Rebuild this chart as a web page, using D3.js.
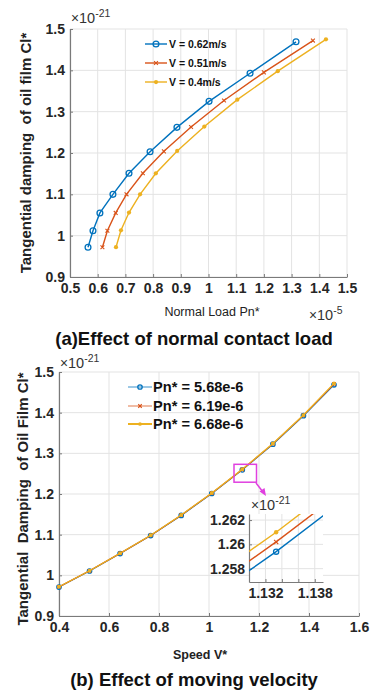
<!DOCTYPE html>
<html><head><meta charset="utf-8">
<script src="https://cdn.jsdelivr.net/npm/d3@7"></script>
<style>
html,body{margin:0;padding:0;background:#fff;}
svg text{font-family:Arial,"Liberation Sans",sans-serif;}
</style></head>
<body>
<script>
// ---------- DATA ----------
// Panel (a): tangential damping vs normal load, three speeds
const seriesA = ["V = 0.62m/s", "V = 0.51m/s", "V = 0.4m/s"];
const pnA_062 = [0.565, 0.583, 0.608, 0.655, 0.713, 0.789, 0.886, 1.002, 1.150, 1.316];
const clA_062 = [0.972, 1.012, 1.055, 1.100, 1.151, 1.203, 1.262, 1.325, 1.393, 1.469];
const pnA_051 = [0.617, 0.635, 0.665, 0.704, 0.763, 0.839, 0.937, 1.056, 1.200, 1.377];
const clA_051 = [0.972, 1.012, 1.055, 1.100, 1.151, 1.204, 1.263, 1.327, 1.395, 1.472];
const pnA_040 = [0.666, 0.684, 0.713, 0.753, 0.810, 0.887, 0.985, 1.104, 1.250, 1.424];
const clA_040 = [0.972, 1.013, 1.056, 1.100, 1.151, 1.205, 1.264, 1.329, 1.398, 1.475];
const xTicksA = [0.5, 0.6, 0.7, 0.8, 0.9, 1, 1.1, 1.2, 1.3, 1.4, 1.5];
const yTicks = [0.9, 1, 1.1, 1.2, 1.3, 1.4, 1.5];

// Panel (b): tangential damping vs speed, three normal loads
const seriesB = ["Pn* = 5.68e-6", "Pn* = 6.19e-6", "Pn* = 6.68e-6"];
const speedB = [0.4, 0.5222, 0.6444, 0.7667, 0.8889, 1.0111, 1.1333, 1.2556, 1.3778, 1.5];
const clB_568 = [0.9712, 1.0107, 1.0535, 1.0977, 1.1474, 1.2012, 1.2594, 1.3225, 1.3925, 1.4685];
const clB_619 = [0.9716, 1.0111, 1.0540, 1.0982, 1.1480, 1.2019, 1.2602, 1.3233, 1.3933, 1.4700];
const clB_668 = [0.9720, 1.0115, 1.0545, 1.0988, 1.1486, 1.2026, 1.2610, 1.3242, 1.3942, 1.4720];
const xTicksB = [0.4, 0.6, 0.8, 1, 1.2, 1.4, 1.6];
// Inset (zoom)
const insetXTicks = [1.132, 1.134, 1.136, 1.138];
const insetXLabels = ["1.132", "", "", "1.138"];
const insetYTicks = [1.258, 1.26, 1.262];
const insetYLabels = ["1.258", "1.26", "1.262"];
const zoomBox = {x0: 1.10, x1: 1.19, y0: 1.229, y1: 1.273};

// ---------- STYLE ----------
const colors = ["#0072BD", "#D95319", "#EDB120"];
const markers = ["circle", "x", "dot"];
const gridColor = "#e3e3e3", axisColor = "#7a7a7a", tickText = "#262626";

const svg = d3.select("body").append("svg").attr("width", 371).attr("height", 692);

function fmt(d){ return (Math.abs(d-1)<1e-9) ? "1" : d3.format(".1f")(d); }

function drawMarker(g, type, cx, cy, color, r){
  if(type==="circle"){
    g.append("circle").attr("cx",cx).attr("cy",cy).attr("r",r).attr("fill","none").attr("stroke",color).attr("stroke-width",1.3);
  } else if(type==="x"){
    const s=r*0.8;
    g.append("path").attr("d",`M${cx-s},${cy-s}L${cx+s},${cy+s}M${cx-s},${cy+s}L${cx+s},${cy-s}`).attr("stroke",color).attr("stroke-width",1.1);
  } else {
    g.append("circle").attr("cx",cx).attr("cy",cy).attr("r",r*0.85).attr("fill",color);
  }
}

function exponent(g, x, y, base, sup, size){
  const t = g.append("text").attr("x",x).attr("y",y).attr("font-size",size).attr("fill","#333");
  t.append("tspan").text("\u00d7").attr("font-size",size*0.95);
  t.append("tspan").text(base);
  t.append("tspan").text(sup).attr("dy",-size*0.42).attr("font-size",size*0.72);
}

function axesFrame(g, x, y, xTicks, yTicks, xFmt, yFmt, opt){
  const [x0,x1]=x.range(), [y0,y1]=y.range();
  g.append("g").selectAll("line").data(xTicks).join("line")
    .attr("x1",d=>x(d)).attr("x2",d=>x(d)).attr("y1",y0).attr("y2",y1)
    .attr("stroke",gridColor).attr("stroke-width",1);
  g.append("g").selectAll("line").data(yTicks).join("line")
    .attr("y1",d=>y(d)).attr("y2",d=>y(d)).attr("x1",x0).attr("x2",x1)
    .attr("stroke",gridColor).attr("stroke-width",1);
  const xa = d3.axisBottom(x).tickValues(xTicks).tickFormat(xFmt).tickSizeInner(-opt.tick).tickSizeOuter(0).tickPadding(opt.xpad);
  const ya = d3.axisLeft(y).tickValues(yTicks).tickFormat(yFmt).tickSizeInner(-opt.tick).tickSizeOuter(0).tickPadding(opt.ypad);
  const gx = g.append("g").attr("transform",`translate(0,${y0})`).call(xa);
  const gy = g.append("g").attr("transform",`translate(${x0},0)`).call(ya);
  [gx,gy].forEach(a=>{
    a.select(".domain").attr("stroke",axisColor).attr("stroke-width",1.2);
    a.selectAll(".tick line").attr("stroke",axisColor);
    a.selectAll(".tick text").attr("font-size",opt.fs).attr("font-weight","bold").attr("fill",tickText)
      .attr("font-family","Arial, 'Liberation Sans', sans-serif");
  });
  return {gx,gy};
}

// ================= PANEL A =================
{
  const g = svg.append("g");
  const x = d3.scaleLinear().domain([0.5,1.5]).range([70,347]);
  const y = d3.scaleLinear().domain([0.9,1.5]).range([277,29]);
  axesFrame(g,x,y,xTicksA,yTicks,fmt,fmt,{tick:3,xpad:6,ypad:5,fs:14});
  const data = [[pnA_062,clA_062],[pnA_051,clA_051],[pnA_040,clA_040]];
  const radii = [2.9, 2.4, 2.5];
  const line = d3.line().x(d=>x(d[0])).y(d=>y(d[1]));
  data.forEach((s,i)=>{
    const pts = s[0].map((v,k)=>[v,s[1][k]]);
    g.append("path").datum(pts).attr("d",line).attr("fill","none").attr("stroke",colors[i]).attr("stroke-width",1.4);
    pts.forEach(p=>drawMarker(g,markers[i],x(p[0]),y(p[1]),colors[i],radii[i]));
  });
  const ly = [44,63,82];
  seriesA.forEach((t,i)=>{
    g.append("line").attr("x1",145).attr("x2",167).attr("y1",ly[i]).attr("y2",ly[i]).attr("stroke",colors[i]).attr("stroke-width",1.4);
    drawMarker(g,markers[i],156,ly[i],colors[i],radii[i]);
    g.append("text").attr("x",169).attr("y",ly[i]+3.8).attr("font-size",10.5).attr("font-weight","bold").attr("fill","#111").text(t);
  });
  exponent(g,71,23,"10","-21",14.5);
  exponent(g,309,320,"10","-5",14.5);
  g.append("text").attr("x",212).attr("y",316).attr("text-anchor","middle").attr("font-size",12.5).attr("fill","#222").text("Normal Load Pn*");
  g.append("text").attr("transform","translate(31,153) rotate(-90)").attr("text-anchor","middle")
    .attr("font-size",15).attr("font-weight","bold").attr("fill","#222").attr("xml:space","preserve")
    .text("Tangential damping  of oil film Cl*");
  g.append("text").attr("x",194).attr("y",345).attr("text-anchor","middle").attr("font-size",18.5).attr("font-weight","bold").attr("fill","#111")
    .text("(a)Effect of normal contact load");
}

// ================= PANEL B =================
{
  const g = svg.append("g");
  const x = d3.scaleLinear().domain([0.4,1.6]).range([59,359]);
  const y = d3.scaleLinear().domain([0.9,1.5]).range([616,372]);
  axesFrame(g,x,y,xTicksB,yTicks,fmt,fmt,{tick:3,xpad:6,ypad:5,fs:14});
  const data = [clB_568, clB_619, clB_668];
  const line = d3.line().x(d=>x(d[0])).y(d=>y(d[1]));
  data.forEach((s,i)=>{
    const pts = speedB.map((v,k)=>[v,s[k]]);
    g.append("path").datum(pts).attr("d",line).attr("fill","none").attr("stroke",colors[i]).attr("stroke-width",1.2);
    pts.forEach(p=>drawMarker(g,markers[i],x(p[0]),y(p[1]),colors[i],2.2));
  });
  const ly = [387,406,424];
  seriesB.forEach((t,i)=>{
    g.append("line").attr("x1",128).attr("x2",152).attr("y1",ly[i]).attr("y2",ly[i]).attr("stroke",colors[i]).attr("stroke-width",i===2?2:1.1).attr("opacity",i===2?1:0.7);
    drawMarker(g,markers[i],140,ly[i],colors[i],2.2);
    g.append("text").attr("x",153).attr("y",ly[i]+5.3).attr("font-size",14.6).attr("font-weight","bold").attr("fill","#111").text(t);
  });
  g.append("rect").attr("x",x(zoomBox.x0)).attr("y",y(zoomBox.y1))
    .attr("width",x(zoomBox.x1)-x(zoomBox.x0)).attr("height",y(zoomBox.y0)-y(zoomBox.y1))
    .attr("fill","none").attr("stroke","#e040e0").attr("stroke-width",1.5);
  g.append("line").attr("x1",256).attr("y1",483).attr("x2",263).attr("y2",492).attr("stroke","#e040e0").attr("stroke-width",1.5);
  g.append("path").attr("d","M266,496 L259.5,491.5 L264.5,488 Z").attr("fill","#e040e0");
  exponent(g,60,368,"10","-21",14.5);
  g.append("text").attr("x",200).attr("y",659).attr("text-anchor","middle").attr("font-size",12.5).attr("font-weight","bold").attr("fill","#222").text("Speed V*");
  g.append("text").attr("transform","translate(28,499) rotate(-90)").attr("text-anchor","middle")
    .attr("font-size",15).attr("font-weight","bold").attr("fill","#222").attr("xml:space","preserve")
    .text("Tangential  Damping  of Oil Film Cl*");
  g.append("text").attr("x",194).attr("y",686).attr("text-anchor","middle").attr("font-size",18.5).attr("font-weight","bold").attr("fill","#111")
    .text("(b) Effect of moving velocity");

  // ----- inset -----
  const ig = svg.append("g");
  const ix = d3.scaleLinear().domain([1.130,1.139]).range([249,323]);
  const iy = d3.scaleLinear().domain([1.2569,1.2625]).range([582,514]);
  ig.append("rect").attr("x",249).attr("y",514).attr("width",74).attr("height",68).attr("fill","#fff");
  axesFrame(ig,ix,iy,insetXTicks,insetYTicks,(d,i)=>insetXLabels[i],(d,i)=>insetYLabels[i],{tick:3,xpad:6,ypad:4,fs:14});
  svg.append("defs").append("clipPath").attr("id","insetClip").append("rect").attr("x",249).attr("y",514).attr("width",74).attr("height",68);
  const cg = ig.append("g").attr("clip-path","url(#insetClip)");
  const iline = d3.line().x(d=>ix(d[0])).y(d=>iy(d[1]));
  data.forEach((s,i)=>{
    const pts = speedB.map((v,k)=>[v,s[k]]);
    cg.append("path").datum(pts).attr("d",iline).attr("fill","none").attr("stroke",colors[i]).attr("stroke-width",1.4);
    pts.forEach(p=>drawMarker(cg,markers[i],ix(p[0]),iy(p[1]),colors[i],2.6));
  });
  exponent(ig,251,510,"10","-21",14.5);
}
</script>
</body></html>
